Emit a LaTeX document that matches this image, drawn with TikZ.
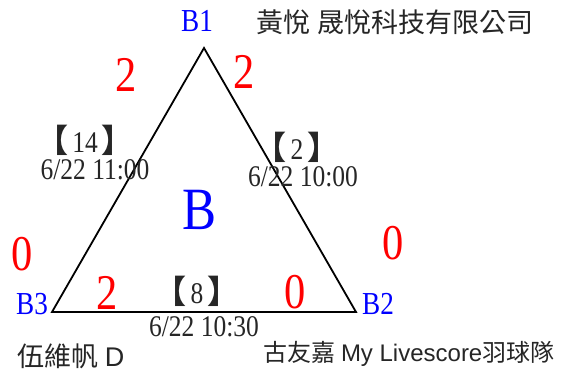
\documentclass[tikz,border=0pt]{standalone}
\usepackage{fontspec}
\setmainfont{Liberation Serif}
\newfontfamily\serifc[FakeStretch=0.85]{Liberation Serif}
\newfontfamily\cjk{Noto Sans CJK TC}
\newfontfamily\arial{Liberation Sans}
\newcommand{\lb}{{\cjk\bfseries\fontsize{32}{32}\selectfont\hspace{-0.5em}【\hspace{0.12em}}}
\newcommand{\rb}{{\cjk\bfseries\fontsize{32}{32}\selectfont\hspace{0.12em}】\hspace{-0.5em}}}
\tikzset{
  vlab/.style={text=blue, font=\serifc\fontsize{32}{32}\selectfont, inner sep=0pt},
  score/.style={text=red, font=\serifc\fontsize{50}{50}\selectfont, inner sep=0pt},
  match/.style={text=black!85, font=\serifc\fontsize{30}{30}\selectfont, inner sep=0pt},
  team/.style={text=black!85, font=\cjk\fontsize{25}{25}\selectfont, inner sep=0pt},
  edge/.style={draw=black, line width=1.8pt, line join=miter},
}
\begin{document}
\begin{tikzpicture}[x=1pt,y=-1pt]
\useasboundingbox (0,0) rectangle (574,378);
\fill[white] (0,0) rectangle (574,378);
\coordinate (T) at (204,48);
\coordinate (L) at (52,312);
\coordinate (R) at (356,312);
\draw[edge] (T) -- (R) -- (L) -- cycle;
\node[vlab] (b1) at (197,21) {B1};
\node[vlab] (b3) at (32,304) {B3};
\node[vlab] (b2) at (378,304) {B2};
\node[text=blue, font=\serifc\fontsize{60}{60}\selectfont, inner sep=0pt] (bb) at (200,210) {B};
\node[team, font=\cjk\fontsize{27}{27}\selectfont] (t1) at (395,22) {黃悅 晟悅科技有限公司};
\node[team, font=\cjk\fontsize{27}{27}\selectfont] (t3) at (71,356) {伍維帆 {\arial D}};
\node[team, font=\cjk\fontsize{24}{24}\selectfont] (t2) at (409,354) {古友嘉 {\arial My Livescore}羽球隊};
\node[score] (s1) at (126,75) {2};
\node[score] (s2) at (244,72) {2};
\node[score] (s3) at (22,254) {0};
\node[score] (s4) at (393,243) {0};
\node[score] (s5) at (107,293) {2};
\node[score] (s6) at (295,292) {0};
\node[match] (m14) at (93,140) {\lb 14\rb};
\node[match] (d14) at (95,170) {6/22 11:00};
\node[match] (m2) at (305,147) {\lb 2\rb};
\node[match] (d2) at (303,177) {6/22 10:00};
\node[match] (m8) at (205,291) {\lb 8\rb};
\node[match] (d8) at (204,327) {6/22 10:30};
\end{tikzpicture}
\end{document}
